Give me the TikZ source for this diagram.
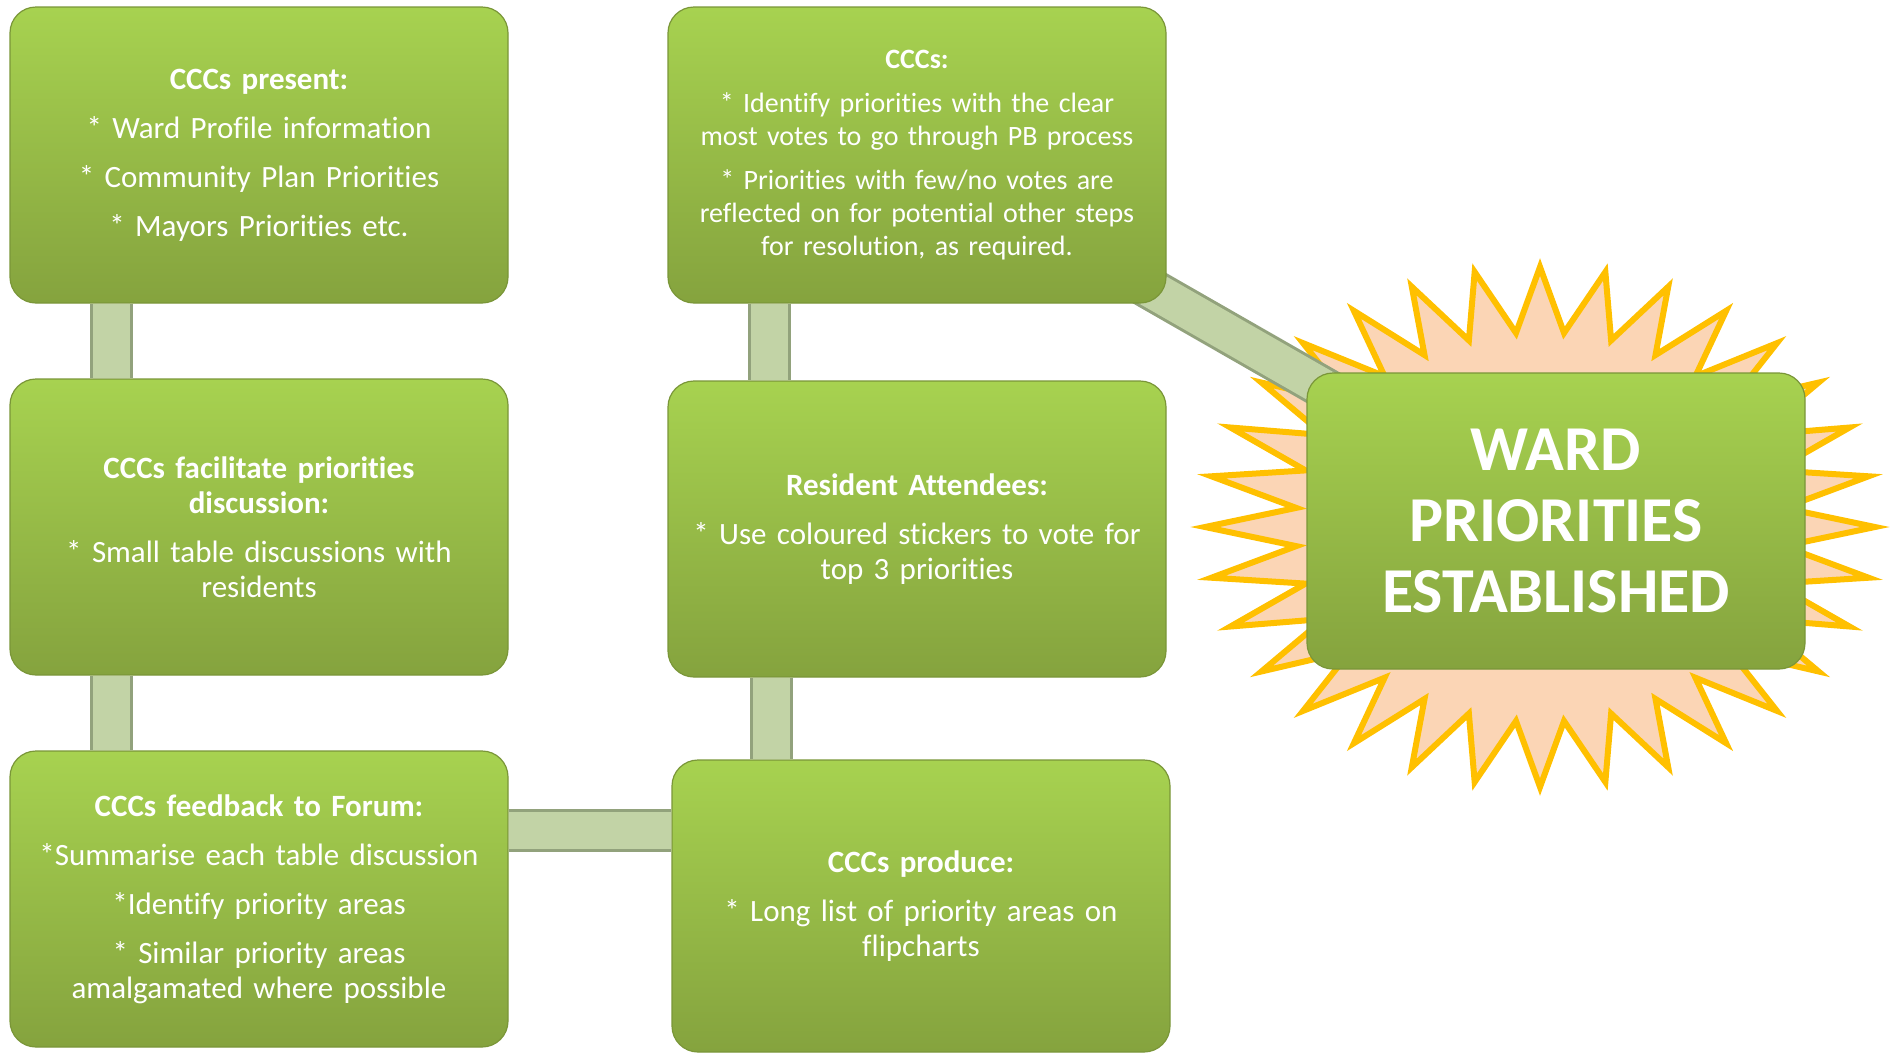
\documentclass[tikz,border=0pt]{standalone}
\usepackage{fontspec}
\setmainfont{Carlito}[Ligatures=NoCommon]
\usetikzlibrary{backgrounds}
\definecolor{boxtop}{HTML}{A7D250}
\definecolor{boxbot}{HTML}{85A33E}
\definecolor{boxedge}{HTML}{7A9638}
\definecolor{tubeedge}{HTML}{92A27C}
\definecolor{tubefill}{HTML}{C2D3A6}
\definecolor{burstfill}{HTML}{FBD5B5}
\definecolor{burstline}{HTML}{FFC000}
\tikzset{stepbox/.style={rectangle, rounded corners=26pt, top color=boxtop, bottom color=boxbot,
    draw=boxedge, line width=1.2pt, minimum width=498pt, minimum height=296pt, inner sep=0pt,
    text width=484pt, align=center, text=white, font=\fontsize{31}{35}\selectfont},
  tube/.style={line width=43pt, draw=tubeedge, postaction={draw=tubefill, line width=37pt}}}

\begin{document}
\begin{tikzpicture}[x=1pt,y=-1pt]
  \useasboundingbox (0,0) rectangle (1890,1053);
  % left column
  \node [stepbox] (present) at (259,155) {{\bfseries CCCs present:}\\[14pt]
    * Ward Profile information\\[14pt] * Community Plan Priorities\\[14pt] * Mayors Priorities etc.};
  \node [stepbox] (discuss) at (259,527) {{\bfseries CCCs facilitate priorities\\discussion:}\\[14pt]
    * Small table discussions with\\residents};
  \node [stepbox] (feedback) at (259,899) {{\bfseries CCCs feedback to Forum:}\\[14pt]
    *Summarise each table discussion\\[14pt] *Identify priority areas\\[14pt]
    * Similar priority areas\\amalgamated where possible};
  % right column, bottom up
  \node [stepbox, minimum height=292pt] (produce) at (921,906) {{\bfseries CCCs produce:}\\[14pt]
    * Long list of priority areas on\\flipcharts};
  \node [stepbox] (vote) at (917,529) {{\bfseries Resident Attendees:}\\[14pt]
    * Use coloured stickers to vote for\\top 3 priorities};
  \node [stepbox, font=\fontsize{28}{33}\selectfont] (select) at (917,155) {{\bfseries CCCs:}\\[11pt]
    * Identify priorities with the clear\\most votes to go through PB process\\[11pt]
    * Priorities with few/no votes are\\reflected on for potential other steps\\for resolution, as required.};
  % result
  \node [stepbox, font=\fontsize{64}{71}\selectfont\bfseries] (ward) at (1556,521) {WARD\\PRIORITIES\\ESTABLISHED};

  \begin{pgfonlayer}{background}
    \draw [fill=burstfill, draw=burstline, line width=6pt, line join=miter, shift={(1540,527)}]
      (90:335 and 260) \foreach \k in {0,...,31} {
        -- ({95.625+11.25*\k}:245 and 195) -- ({101.25+11.25*\k}:335 and 260) } -- cycle;
    \draw [tube] ([xshift=-148pt]present.south) -- ([xshift=-148pt]discuss.north);
    \draw [tube] ([xshift=-148pt]discuss.south) -- ([xshift=-148pt]feedback.north);
    \draw [tube] ([yshift=69pt]feedback.east) -- ([yshift=69pt]feedback.east -| produce.west);
    \draw [tube] ([xshift=-146pt]vote.south) -- ([xshift=-146pt]vote.south |- produce.north);
    \draw [tube] ([xshift=-148pt]select.south) -- ([xshift=-148pt]vote.north);
    \draw [tube] (select.center) -- (ward.center);
  \end{pgfonlayer}
\end{tikzpicture}
\end{document}
